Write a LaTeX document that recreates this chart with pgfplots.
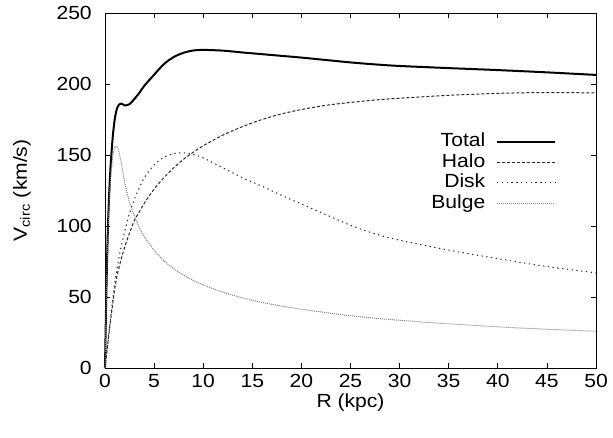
\documentclass[border=0pt]{standalone}
\usepackage{pgfplots}
\pgfplotsset{compat=1.18}
\usepackage{fontspec}
\setmainfont[FakeStretch=1.11]{Liberation Sans}

\pgfplotstableread{
R V
0 0
0.1 38.9
0.2 72
0.3 98.4
0.4 118.2
0.5 133.2
0.6 145.2
0.8 163.5
1.0 175.4
1.2 182.2
1.4 185.2
1.7 186.2
2 184.9
2.5 185.8
3 189.5
3.5 193.8
4 198.7
5 206.5
6 214
7 219
8 222
9 223.6
10 224
12 223.5
14 222.2
16 221
18 219.8
20 218.6
22.5 216.9
25 215.2
27.5 213.8
30 212.7
35 211.2
40 209.8
45 208.2
50 206.4
}\total

\pgfplotstableread{
R V
0 0
0.1 6
0.2 12
0.3 18
0.4 24
0.5 30
0.6 35
0.8 46
1.0 56
1.2 64
1.4 70
1.7 78
2 85
2.5 95
3 104
3.5 110
4 116
5 126
6 134
7 141
8 147
9 152
10 156.5
12 164
14 170
16 175
18 179
20 182
22.5 185
25 187
27.5 188.7
30 190
35 192
40 193.4
45 194
50 193.7
}\halo

\pgfplotstableread{
R V
0 0
0.1 6
0.2 12
0.3 18
0.4 25
0.5 31
0.6 37
0.8 49
1.0 60
1.2 69
1.4 77
1.7 87
2 96
2.5 109
3 119
3.5 127
4 134
5 143
6 148.5
7 151
8 151.5
9 150.3
10 148
12 141
14 134
16 128
18 121.5
20 115.5
22.5 108
25 100.5
27.5 94.5
30 90
35 83
40 77
45 71.5
50 67
}\disk

\pgfplotstableread{
R V
0 0
0.1 38
0.2 70
0.3 95
0.4 113
0.5 126
0.6 136
0.8 149
1.0 155
1.2 156
1.4 153
1.7 143
2 131
2.5 117
3 107
3.5 99
4 92.5
5 83
6 75.5
7 70
8 65.5
9 61.7
10 58.5
12 53.4
14 49.4
16 46.2
18 43.6
20 41.4
22.5 39
25 36.8
27.5 35.1
30 33.6
35 31.1
40 29
45 27.3
50 25.9
}\bulge

\begin{document}
\fontsize{14.25}{17}\selectfont
\begin{tikzpicture}
\begin{axis}[
  width=368.25pt, height=266.25pt, scale only axis,
  xmin=0, xmax=50, ymin=0, ymax=250,
  xtick={0,5,...,50}, ytick={0,50,...,250},
  tick align=inside, major tick length=3.75pt,
  /pgf/number format/assume math mode=true,
  axis line style={line width=0.6pt},
  every tick/.style={black, line width=0.6pt},
  xticklabel style={inner sep=0.5pt, yshift=-4pt},
  yticklabel style={inner sep=2pt, xshift=-7.75pt},
  xlabel={R (kpc)},
  ylabel={V\textsubscript{circ} (km/s)},
  xlabel style={at={(axis description cs:0.5,-0.098)}, anchor=center, inner sep=0pt},
  ylabel style={at={(axis description cs:-0.169,0.5)}, anchor=center},
  clip=false,
  legend plot pos=right,
  legend cell align=right,
  legend style={draw=none, fill=none, inner sep=0pt,
    at={(axis description cs:0.919,0.667)}, anchor=north east,
    column sep=7pt,
    nodes={inner sep=1pt, text height=10.3pt, text depth=3.1pt}},
  legend image code/.code={\draw[#1] (0pt,0pt) -- (43.5pt,0pt);},
]
\addplot[black, line width=1.5pt, smooth] table {\total};
\addlegendentry{Total}
\addplot[black!85, line width=0.75pt, dash pattern=on 2.25pt off 1.5pt, smooth] table {\halo};
\addlegendentry{Halo}
\addplot[black!85, line width=0.75pt, dash pattern=on 1pt off 2.6pt, smooth] table {\disk};
\addlegendentry{Disk}
\addplot[black!50, line width=0.75pt, dash pattern=on 0.75pt off 0.75pt, smooth] table {\bulge};
\addlegendentry{Bulge}
\path (rel axis cs:-0.2138,-0.1944) rectangle (rel axis cs:1.0346,1.0366);
\end{axis}
\end{tikzpicture}
\end{document}
